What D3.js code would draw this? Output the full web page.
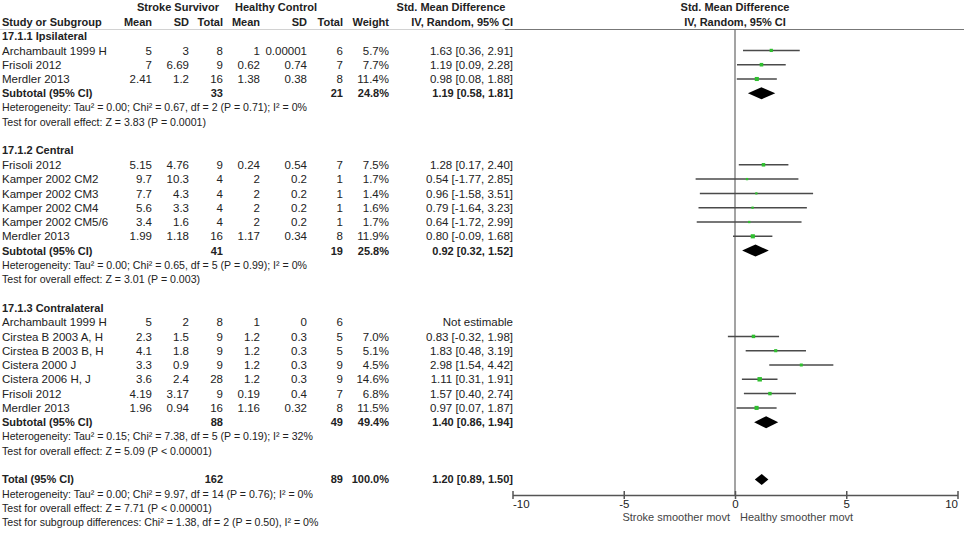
<!DOCTYPE html>
<html>
<head>
<meta charset="utf-8">
<script src="https://cdn.jsdelivr.net/npm/d3@7"></script>
<style>
  body { margin: 0; background: #fff; }
  text { font-family: "Liberation Sans", Arial, sans-serif; fill: #222; }
</style>
</head>
<body>
<script>
let w = 964
let h = 536

// subgroups
let groups = ["17.1.1 Ipsilateral", "17.1.2 Central", "17.1.3 Contralateral"]

// studies
let study = ["Archambault 1999 H", "Frisoli 2012", "Merdler 2013",
  "Frisoli 2012", "Kamper 2002 CM2", "Kamper 2002 CM3", "Kamper 2002 CM4", "Kamper 2002 CM5/6", "Merdler 2013",
  "Archambault 1999 H", "Cirstea B 2003 A, H", "Cirstea B 2003 B, H", "Cistera 2000 J", "Cistera 2006 H, J", "Frisoli 2012", "Merdler 2013"]
let groupOf = [0,0,0, 1,1,1,1,1,1, 2,2,2,2,2,2,2]
let sMean = ["5","7","2.41", "5.15","9.7","7.7","5.6","3.4","1.99", "5","2.3","4.1","3.3","3.6","4.19","1.96"]
let sSD = ["3","6.69","1.2", "4.76","10.3","4.3","3.3","1.6","1.18", "2","1.5","1.8","0.9","2.4","3.17","0.94"]
let sN = [8,9,16, 9,4,4,4,4,16, 8,9,9,9,28,9,16]
let hMean = ["1","0.62","1.38", "0.24","2","2","2","2","1.17", "1","1.2","1.2","1.2","1.2","0.19","1.16"]
let hSD = ["0.00001","0.74","0.38", "0.54","0.2","0.2","0.2","0.2","0.34", "0","0.3","0.3","0.3","0.3","0.4","0.32"]
let hN = [6,7,8, 7,1,1,1,1,8, 6,5,5,9,9,7,8]
let weight = [5.7,7.7,11.4, 7.5,1.7,1.4,1.6,1.7,11.9, null,7.0,5.1,4.5,14.6,6.8,11.5]
let smd = [1.63,1.19,0.98, 1.28,0.54,0.96,0.79,0.64,0.80, null,0.83,1.83,2.98,1.11,1.57,0.97]
let lo = [0.36,0.09,0.08, 0.17,-1.77,-1.58,-1.64,-1.72,-0.09, null,-0.32,0.48,1.54,0.31,0.40,0.07]
let hi = [2.91,2.28,1.88, 2.40,2.85,3.51,3.23,2.99,1.68, null,1.98,3.19,4.42,1.91,2.74,1.87]

// subtotals
let subSN = [33, 41, 88]
let subHN = [21, 19, 49]
let subW = [24.8, 25.8, 49.4]
let subSmd = [1.19, 0.92, 1.40]
let subLo = [0.58, 0.32, 0.86]
let subHi = [1.81, 1.52, 1.94]
let subHet = [
  "Heterogeneity: Tau² = 0.00; Chi² = 0.67, df = 2 (P = 0.71); I² = 0%",
  "Heterogeneity: Tau² = 0.00; Chi² = 0.65, df = 5 (P = 0.99); I² = 0%",
  "Heterogeneity: Tau² = 0.15; Chi² = 7.38, df = 5 (P = 0.19); I² = 32%"]
let subTest = [
  "Test for overall effect: Z = 3.83 (P = 0.0001)",
  "Test for overall effect: Z = 3.01 (P = 0.003)",
  "Test for overall effect: Z = 5.09 (P < 0.00001)"]

// overall
let totSN = 162, totHN = 89, totW = 100.0
let totSmd = 1.20, totLo = 0.89, totHi = 1.50
let totNotes = [
  "Heterogeneity: Tau² = 0.00; Chi² = 9.97, df = 14 (P = 0.76); I² = 0%",
  "Test for overall effect: Z = 7.71 (P < 0.00001)",
  "Test for subgroup differences: Chi² = 1.38, df = 2 (P = 0.50), I² = 0%"]

let xTicks = [-10, -5, 0, 5, 10]
let favours = ["Stroke smoother movt", "Healthy smoother movt"]

let svg = d3.select("body").append("svg").attr("width", w).attr("height", h)

let x = d3.scaleLinear().domain([-10, 10]).range([512.5, 957.5])
let y = d3.scaleLinear().domain([0, 36]).range([7.5, 522.3])

// column right edges
let col = {mean: 152, sd: 189, tot: 223, hmean: 260, hsd: 307, htot: 343, wt: 389, ci: 513}

let fmtCI = (m, l, u) => m.toFixed(2) + " [" + l.toFixed(2) + ", " + u.toFixed(2) + "]"
let fmtW = v => v.toFixed(1) + "%"

let put = (txt, xx, r, anchor, bold, size) => {
  svg.append("text")
    .text(txt)
    .attr("x", xx)
    .attr("y", y(r))
    .attr("dy", "0.36em")
    .attr("text-anchor", anchor || "start")
    .style("font-size", (size || (bold ? 11 : 11.5)) + "px")
    .style("font-weight", bold ? "bold" : "normal")
}

// headers
put("Stroke Survivor", 178, 0, "middle", true)
put("Healthy Control", 276, 0, "middle", true)
put("Std. Mean Difference", 451, 0, "middle", true)
put("Std. Mean Difference", x(0), 0, "middle", true)
put("Study or Subgroup", 2, 1, "start", true)
put("Mean", col.mean, 1, "end", true)
put("SD", col.sd, 1, "end", true)
put("Total", col.tot, 1, "end", true)
put("Mean", col.hmean, 1, "end", true)
put("SD", col.hsd, 1, "end", true)
put("Total", col.htot, 1, "end", true)
put("Weight", col.wt, 1, "end", true)
put("IV, Random, 95% CI", col.ci, 1, "end", true)
put("IV, Random, 95% CI", x(0), 1, "middle", true)

svg.append("line").attr("x1", 0).attr("x2", 505).attr("y1", 29.5).attr("y2", 29.5)
  .attr("stroke", "#d2d2d2").attr("stroke-width", 1)
svg.append("line").attr("x1", 505).attr("x2", w).attr("y1", 29.5).attr("y2", 29.5)
  .attr("stroke", "#777").attr("stroke-width", 1.2)

// zero line
svg.append("line").attr("x1", x(0)).attr("x2", x(0)).attr("y1", 29.5).attr("y2", 495)
  .attr("stroke", "#666").attr("stroke-width", 1.2)

let diamond = (m, l, u, r, hh) => {
  let cy = y(r)
  svg.append("polygon")
    .attr("points", [[x(l), cy], [x(m), cy - hh / 2], [x(u), cy], [x(m), cy + hh / 2]].join(" "))
    .attr("fill", "#000")
}

let r = 2
groups.forEach((g, gi) => {
  put(g, 2, r, "start", true)
  r++
  study.forEach((s, i) => {
    if (groupOf[i] !== gi) return
    put(s, 2, r)
    put(sMean[i], col.mean, r, "end")
    put(sSD[i], col.sd, r, "end")
    put(sN[i], col.tot, r, "end")
    put(hMean[i], col.hmean, r, "end")
    put(hSD[i], col.hsd, r, "end")
    put(hN[i], col.htot, r, "end")
    if (weight[i] !== null) {
      put(fmtW(weight[i]), col.wt, r, "end")
      put(fmtCI(smd[i], lo[i], hi[i]), col.ci, r, "end")
      svg.append("line")
        .attr("x1", x(lo[i])).attr("x2", x(hi[i]))
        .attr("y1", y(r)).attr("y2", y(r))
        .attr("stroke", "#4a4a4a").attr("stroke-width", 1.5)
      let sz = 1.2 + Math.sqrt(weight[i]) * 0.85
      svg.append("rect")
        .attr("x", x(smd[i]) - sz / 2).attr("y", y(r) - sz / 2)
        .attr("width", sz).attr("height", sz)
        .attr("fill", "#2fbf2f")
    } else {
      put("Not estimable", col.ci, r, "end")
    }
    r++
  })
  put("Subtotal (95% CI)", 2, r, "start", true)
  put(subSN[gi], col.tot, r, "end", true)
  put(subHN[gi], col.htot, r, "end", true)
  put(fmtW(subW[gi]), col.wt, r, "end", true)
  put(fmtCI(subSmd[gi], subLo[gi], subHi[gi]), col.ci, r, "end", true)
  diamond(subSmd[gi], subLo[gi], subHi[gi], r, 12)
  r++
  put(subHet[gi], 2, r, "start", false, 10.6)
  r++
  put(subTest[gi], 2, r, "start", false, 10.6)
  r += 2
})

put("Total (95% CI)", 2, r, "start", true)
put(totSN, col.tot, r, "end", true)
put(totHN, col.htot, r, "end", true)
put(fmtW(totW), col.wt, r, "end", true)
put(fmtCI(totSmd, totLo, totHi), col.ci, r, "end", true)
diamond(totSmd, totLo, totHi, r, 11)
r++
totNotes.forEach(t => { put(t, 2, r, "start", false, 10.6); r++ })

// axis
let axis = svg.append("g").attr("transform", "translate(0,495)")
  .call(d3.axisBottom(x).tickValues(xTicks).tickSize(4).tickSizeOuter(0).tickFormat(d => String(d)))
axis.select(".domain").attr("stroke", "#555").attr("stroke-width", 1.5)
axis.selectAll(".tick line").attr("y1", -4).attr("y2", 4).attr("stroke", "#555").attr("stroke-width", 1.5)
axis.selectAll(".tick text")
  .attr("y", 5)
  .style("font-size", "11.5px")
  .style("font-family", "'Liberation Sans', Arial, sans-serif")
  .attr("fill", "#444")
  .attr("text-anchor", d => d === -10 ? "start" : d === 10 ? "end" : "middle")

svg.append("text").text(favours[0])
  .attr("x", x(0) - 5).attr("y", 521)
  .attr("text-anchor", "end")
  .style("font-size", "11px").style("fill", "#444")
svg.append("text").text(favours[1])
  .attr("x", x(0) + 5).attr("y", 521)
  .attr("text-anchor", "start")
  .style("font-size", "11px").style("fill", "#444")
</script>
</body>
</html>
